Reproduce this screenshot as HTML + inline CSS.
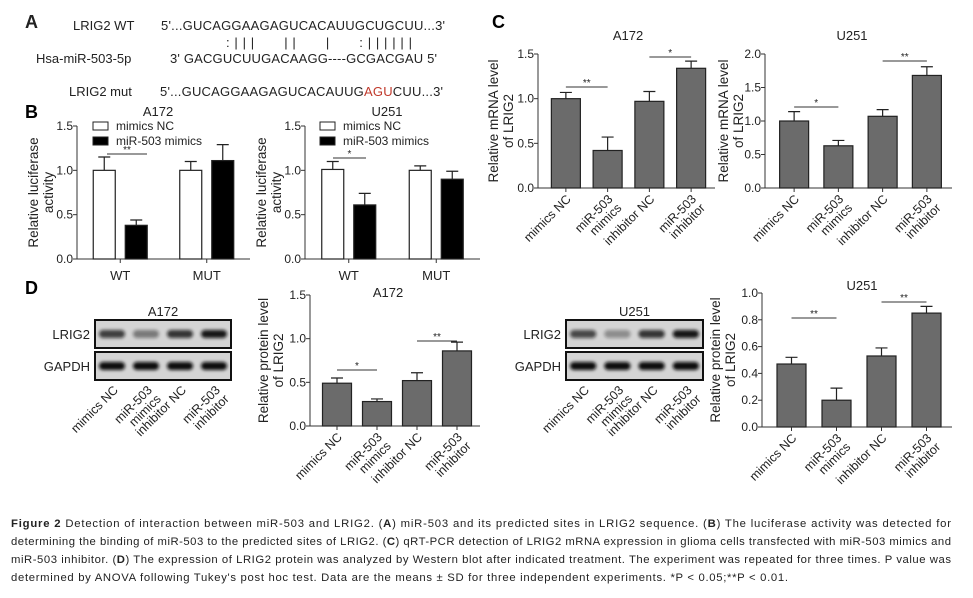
<!DOCTYPE html>
<html><head><meta charset="utf-8"><style>
html,body{margin:0;padding:0;background:#fff;}
svg{display:block;font-family:"Liberation Sans",sans-serif;}
.cap{font-family:"Liberation Sans",sans-serif;font-size:11.3px;fill:#222;}
</style></head><body>
<svg id="fig" width="973" height="598" viewBox="0 0 973 598" xmlns="http://www.w3.org/2000/svg">
<defs><filter id="blur" x="-20%" y="-50%" width="140%" height="200%"><feGaussianBlur stdDeviation="1.5"/></filter></defs>
<g font-size="13" fill="#222">
<text x="25" y="28" font-size="18" font-weight="bold">A</text>
<text x="73" y="30">LRIG2 WT</text>
<text x="161" y="30" textLength="284">5'...GUCAGGAAGAGUCACAUUGCUGCUU...3'</text>
<text x="226" y="47" font-size="13" textLength="186" xml:space="preserve">:|||   ||   |   :||||||</text>
<text x="36" y="63">Hsa-miR-503-5p</text>
<text x="170" y="63" textLength="267">3' GACGUCUUGACAAGG----GCGACGAU 5'</text>
<text x="69" y="96">LRIG2 mut</text>
<text x="160" y="96" textLength="283">5'...GUCAGGAAGAGUCACAUUG<tspan fill="#c0392b">AGU</tspan>CUU...3'</text>
</g>
<text x="25" y="118" font-size="18" font-weight="bold">B</text>
<text x="492" y="28" font-size="18" font-weight="bold">C</text>
<text x="25" y="294" font-size="18" font-weight="bold">D</text>
<g id="blots"></g>
<g id="charts"></g>
<g>
<text class="cap" x="11" y="527" textLength="940"><tspan font-weight="bold">Figure 2</tspan> Detection of interaction between miR-503 and LRIG2. (<tspan font-weight="bold">A</tspan>) miR-503 and its predicted sites in LRIG2 sequence. (<tspan font-weight="bold">B</tspan>) The luciferase activity was detected for</text>
<text class="cap" x="11" y="545" textLength="940">determining the binding of miR-503 to the predicted sites of LRIG2. (<tspan font-weight="bold">C</tspan>) qRT-PCR detection of LRIG2 mRNA expression in glioma cells transfected with miR-503 mimics and</text>
<text class="cap" x="11" y="563" textLength="940">miR-503 inhibitor. (<tspan font-weight="bold">D</tspan>) The expression of LRIG2 protein was analyzed by Western blot after indicated treatment. The experiment was repeated for three times. P value was</text>
<text class="cap" x="11" y="581" textLength="777">determined by ANOVA following Tukey's post hoc test. Data are the means ± SD for three independent experiments. *P &lt; 0.05;**P &lt; 0.01.</text>
</g>
</svg>
<script>
// ---- data ----
const groupCats = ["mimics NC","miR-503 mimics","inhibitor NC","miR-503 inhibitor"];
const lucCats = ["WT","MUT"];
const lucA172NC = [1.0, 1.0];
const lucA172Mim = [0.38, 1.11];
const lucA172NCErr = [0.15, 0.10];
const lucA172MimErr = [0.06, 0.18];
const lucU251NC = [1.01, 1.0];
const lucU251Mim = [0.61, 0.9];
const lucU251NCErr = [0.09, 0.05];
const lucU251MimErr = [0.13, 0.09];
const lucTicks = [0, 0.5, 1.0, 1.5];
const mrnaA172 = [1.0, 0.42, 0.97, 1.34];
const mrnaA172Err = [0.07, 0.15, 0.11, 0.08];
const mrnaU251 = [1.0, 0.63, 1.07, 1.68];
const mrnaU251Err = [0.14, 0.08, 0.10, 0.13];
const protA172 = [0.49, 0.28, 0.52, 0.86];
const protA172Err = [0.06, 0.03, 0.09, 0.10];
const protU251 = [0.47, 0.20, 0.53, 0.85];
const protU251Err = [0.05, 0.09, 0.06, 0.05];
const ticks15 = [0, 0.5, 1.0, 1.5];
const ticks20 = [0, 0.5, 1.0, 1.5, 2.0];
const ticks10 = [0, 0.2, 0.4, 0.6, 0.8, 1.0];
const bandA172 = [0.75, 0.45, 0.8, 0.95];
const bandU251 = [0.7, 0.35, 0.8, 0.95];

const NS = "http://www.w3.org/2000/svg";
const root = document.getElementById("charts");
function el(tag, attrs, parent){
  const e = document.createElementNS(NS, tag);
  for (const k in attrs) e.setAttribute(k, attrs[k]);
  (parent||root).appendChild(e);
  return e;
}
function txt(parent, x, y, s, attrs){
  const t = el("text", Object.assign({x:x, y:y, "font-size":12, fill:"#222"}, attrs||{}), parent);
  t.textContent = s;
  return t;
}
function rotLabel(parent, x, y, s){
  const g = el("g", {transform:"translate("+x+","+y+") rotate(-45)"}, parent);
  
  
  const parts = s.indexOf("miR-503 ")===0 ? ["miR-503", s.slice(8)] : [s];
  parts.forEach((p,i)=>{
    const t = el("text", {x:0, y:4+i*12.5, "font-size":12.5, "text-anchor":"end", fill:"#222"}, g);
    t.textContent = p;
  });
}
function axis(g, cfg){
  const ys = v => cfg.y0 - v / cfg.max * (cfg.y0 - cfg.yTop);
  el("line", {x1:cfg.x0, y1:cfg.yTop, x2:cfg.x0, y2:cfg.y0, stroke:"#333", "stroke-width":1}, g);
  el("line", {x1:cfg.x0, y1:cfg.y0, x2:cfg.xEnd, y2:cfg.y0, stroke:"#333", "stroke-width":1}, g);
  cfg.ticks.forEach(v=>{
    const y = ys(v);
    el("line", {x1:cfg.x0-4, y1:y, x2:cfg.x0, y2:y, stroke:"#333"}, g);
    const t = txt(g, cfg.x0-4, y+4, v.toFixed(1), {"text-anchor":"end", "font-size":12});
    
    
  });
  const yl = el("text", {transform:"translate("+cfg.ylx+","+((cfg.yTop+cfg.y0)/2)+") rotate(-90)", "text-anchor":"middle", "font-size":13.5, fill:"#222"}, g);
  
  
  cfg.ylab.forEach((s,i)=>{
    const ts = el("tspan", {x:0, y:i*15}, yl); ts.textContent = s;
  });
  const tt = txt(g, cfg.titleX, cfg.titleY, cfg.title, {"text-anchor":"middle", "font-size":13});
  
  
  return ys;
}
function bar(g, x, w, v, err, ys, fill, name){
  const r = el("rect", {x:x, y:ys(v), width:w, height:ys(0)-ys(v), fill:fill, stroke:"#222", "stroke-width":1.2}, g);
  
  
  const cx = x + w/2, ye = ys(v+err);
  const e = el("path", {d:"M"+cx+","+ys(v)+"V"+ye+"M"+(cx-6)+","+ye+"H"+(cx+6), stroke:"#222", "stroke-width":1.2, fill:"none"}, g);
  
  
}
function sig(g, x1, x2, y, s){
  const l = el("line", {x1:x1, y1:y, x2:x2, y2:y, stroke:"#333"}, g);
  
  
  const t = txt(g, (x1+x2)/2, y-1, s, {"text-anchor":"middle", "font-size":10});
  
  
}
function lucChart(name, cfg, nc, mim, ncE, mimE, legX, sigs){
  const g = el("g", {});
  
  
  const ys = axis(g, cfg);
  const groupW = (cfg.xEnd - cfg.x0) / lucCats.length;
  lucCats.forEach((c,i)=>{
    const cx = cfg.x0 + groupW*(i+0.5);
    el("line", {x1:cx, y1:cfg.y0, x2:cx, y2:cfg.y0+4, stroke:"#333"}, g);
    bar(g, cx-27, 22, nc[i], ncE[i], ys, "#fff", "bar-mimics-nc-"+c.toLowerCase());
    bar(g, cx+5, 22, mim[i], mimE[i], ys, "#000", "bar-mir503-mimics-"+c.toLowerCase());
    const t = txt(g, cx, cfg.y0+21, c, {"text-anchor":"middle", "font-size":13});
    
    
  });
  [["mimics NC","#fff"],["miR-503 mimics","#000"]].forEach((L,i)=>{
    const lg = el("g", {}, g);
    
    
    el("rect", {x:legX, y:cfg.yTop+i*15-4, width:15, height:8, fill:L[1], stroke:"#222"}, lg);
    txt(lg, legX+23, cfg.yTop+i*15+4, L[0], {"font-size":12});
  });
  sig(g, sigs[0], sigs[1], sigs[2], sigs[3]);
}
lucChart("luciferase-a172-chart", {x0:77,xEnd:250,y0:259,yTop:126,max:1.5,ticks:lucTicks,ylx:38,ylab:["Relative luciferase","activity"],title:"A172",titleX:158,titleY:116},
  lucA172NC, lucA172Mim, lucA172NCErr, lucA172MimErr, 93, [107,147,154,"**"]);
lucChart("luciferase-u251-chart", {x0:305,xEnd:480,y0:259,yTop:126,max:1.5,ticks:lucTicks,ylx:266,ylab:["Relative luciferase","activity"],title:"U251",titleX:387,titleY:116},
  lucU251NC, lucU251Mim, lucU251NCErr, lucU251MimErr, 320, [333,366,158,"*"]);
function grayChart(name, cfg, vals, errs, sigs){
  const g = el("g", {});
  
  
  const ys = axis(g, cfg);
  const step = (cfg.xEnd - cfg.x0 - 10) / groupCats.length;
  groupCats.forEach((c,i)=>{
    const cx = cfg.x0 + 10 + step*(i+0.5) - 3;
    bar(g, cx-14.5, 29, vals[i], errs[i], ys, "#6b6b6b", "bar-"+c.toLowerCase().replace(/ /g,"-"));
    el("line", {x1:cx, y1:cfg.y0, x2:cx, y2:cfg.y0+4, stroke:"#333"}, g);
    rotLabel(g, cx+3, cfg.y0+9, c);
  });
  sigs.forEach(s=>{
    const a = cfg.x0 + 10 + step*(s[0]+0.5) - 3, b = cfg.x0 + 10 + step*(s[1]+0.5) - 3;
    sig(g, a, b, s[2], s[3]);
  });
}
grayChart("mrna-a172-chart", {x0:538,xEnd:715,y0:188,yTop:54,max:1.5,ticks:ticks15,ylx:498,ylab:["Relative mRNA level","of LRIG2"],title:"A172",titleX:628,titleY:40},
  mrnaA172, mrnaA172Err, [[0,1,87,"**"],[2,3,57,"*"]]);
grayChart("mrna-u251-chart", {x0:765,xEnd:952,y0:188,yTop:54,max:2.0,ticks:ticks20,ylx:728,ylab:["Relative mRNA level","of LRIG2"],title:"U251",titleX:852,titleY:40},
  mrnaU251, mrnaU251Err, [[0,1,107,"*"],[2,3,61,"**"]]);
grayChart("protein-a172-chart", {x0:310,xEnd:480,y0:426,yTop:295,max:1.5,ticks:ticks15,ylx:268,ylab:["Relative protein level","of LRIG2"],title:"A172",titleX:388,titleY:297},
  protA172, protA172Err, [[0,1,370,"*"],[2,3,341,"**"]]);
grayChart("protein-u251-chart", {x0:762,xEnd:952,y0:427,yTop:293,max:1.0,ticks:ticks10,ylx:720,ylab:["Relative protein level","of LRIG2"],title:"U251",titleX:862,titleY:290},
  protU251, protU251Err, [[0,1,318,"**"],[2,3,302,"**"]]);
const blots = document.getElementById("blots");
function blot(name, x0, x1, title, bands){
  const g = el("g", {}, blots);
  
  
  txt(g, (x0+x1)/2, 316, title, {"text-anchor":"middle", "font-size":13});
  [["LRIG2",320,bands],["GAPDH",352,[1,1,1,1]]].forEach(r=>{
    el("rect", {x:x0, y:r[1], width:x1-x0, height:28, fill:"#d4d4d4", stroke:"#111", "stroke-width":2}, g);
    txt(g, x0-5, r[1]+19, r[0], {"text-anchor":"end", "font-size":13});
    const lw = (x1-x0)/4;
    r[2].forEach((b,i)=>{
      const band = el("rect", {x:x0+lw*i+4, y:r[1]+10, width:lw-8, height:8, rx:4, fill:"#111", opacity:b, filter:"url(#blur)"}, g);
      
      
    });
  });
  const lw = (x1-x0)/4;
  groupCats.forEach((c,i)=>rotLabel(g, x0+lw*(i+0.5)+4, 388, c));
}
blot("blot-a172", 95, 231, "A172", bandA172);
blot("blot-u251", 566, 703, "U251", bandU251);
</script>
</body></html>
